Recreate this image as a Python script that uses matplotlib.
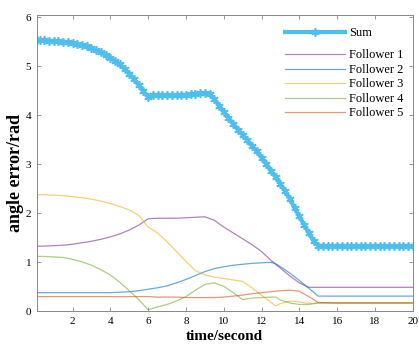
import matplotlib
matplotlib.use('Agg')
import matplotlib.pyplot as plt

plt.rcParams['font.family'] = ['Liberation Serif', 'DejaVu Serif']

# tempo dos seguidores
t_f = [0.1, 0.5, 1, 1.5, 2, 2.5, 3, 3.5, 4, 4.5, 5, 5.5, 6, 6.5, 7, 7.5, 8, 8.5, 9, 9.5,
       10, 10.5, 11, 11.5, 12, 12.5, 12.75, 13, 13.5, 14, 14.5, 15, 16, 17, 18, 19, 20]

follower1 = [1.33, 1.33, 1.34, 1.35, 1.37, 1.40, 1.43, 1.47, 1.52, 1.58, 1.66, 1.76, 1.89, 1.90, 1.90, 1.90, 1.91, 1.92, 1.93, 1.86,
             1.72, 1.60, 1.48, 1.36, 1.22, 1.04, 0.96, 0.88, 0.72, 0.58, 0.49, 0.49, 0.49, 0.49, 0.49, 0.49, 0.49]
follower2 = [0.38, 0.38, 0.38, 0.38, 0.38, 0.38, 0.38, 0.38, 0.38, 0.39, 0.40, 0.42, 0.45, 0.48, 0.52, 0.58, 0.65, 0.73, 0.81, 0.87,
             0.91, 0.94, 0.96, 0.98, 0.99, 1.00, 0.97, 0.91, 0.78, 0.63, 0.47, 0.31, 0.31, 0.31, 0.31, 0.31, 0.31]
follower3 = [2.38, 2.38, 2.37, 2.36, 2.34, 2.32, 2.29, 2.25, 2.20, 2.14, 2.07, 1.96, 1.72, 1.60, 1.42, 1.22, 1.02, 0.83, 0.74, 0.70,
             0.67, 0.64, 0.61, 0.48, 0.33, 0.18, 0.11, 0.16, 0.21, 0.19, 0.16, 0.17, 0.17, 0.17, 0.17, 0.17, 0.17]
follower4 = [1.12, 1.12, 1.11, 1.10, 1.06, 1.01, 0.94, 0.85, 0.74, 0.59, 0.42, 0.24, 0.03, 0.09, 0.14, 0.21, 0.30, 0.43, 0.55, 0.58,
             0.51, 0.38, 0.24, 0.27, 0.28, 0.29, 0.29, 0.23, 0.17, 0.14, 0.14, 0.17, 0.17, 0.17, 0.17, 0.17, 0.17]
follower5 = [0.30, 0.30, 0.30, 0.30, 0.30, 0.30, 0.30, 0.30, 0.30, 0.30, 0.30, 0.30, 0.30, 0.29, 0.29, 0.29, 0.28, 0.28, 0.28, 0.28,
             0.29, 0.31, 0.33, 0.36, 0.38, 0.40, 0.41, 0.42, 0.43, 0.41, 0.30, 0.18, 0.17, 0.17, 0.17, 0.17, 0.17]

# soma
t_sum = [0.1, 0.25, 0.5, 0.75, 1, 1.25, 1.5, 1.75, 2, 2.25, 2.5, 2.75, 3, 3.25, 3.5, 3.75, 4, 4.25, 4.5, 4.75,
         5, 5.25, 5.5, 5.75, 6, 6.25, 6.5, 6.75, 7, 7.25, 7.5, 7.75, 8, 8.25, 8.5, 8.75, 9, 9.25, 9.5, 9.75,
         10, 10.25, 10.5, 10.75, 11, 11.25, 11.5, 11.75, 12, 12.25, 12.5, 12.75, 13, 13.25, 13.5, 13.75, 14, 14.25, 14.5, 14.75,
         15, 15.25, 15.5, 15.75, 16, 16.25, 16.5, 16.75, 17, 17.25, 17.5, 17.75, 18, 18.25, 18.5, 18.75, 19, 19.25, 19.5, 19.75, 20]
sum_err = [5.53, 5.53, 5.53, 5.52, 5.52, 5.51, 5.50, 5.49, 5.48, 5.46, 5.44, 5.41, 5.37, 5.33, 5.29, 5.24, 5.18, 5.11, 5.04, 4.95,
           4.85, 4.74, 4.62, 4.49, 4.38, 4.41, 4.41, 4.41, 4.41, 4.41, 4.41, 4.42, 4.42, 4.43, 4.44, 4.45, 4.45, 4.44, 4.33, 4.20,
           4.07, 3.95, 3.83, 3.71, 3.60, 3.49, 3.38, 3.27, 3.14, 3.01, 2.87, 2.74, 2.60, 2.45, 2.29, 2.11, 1.94, 1.77, 1.60, 1.44,
           1.34, 1.33, 1.33, 1.33, 1.33, 1.33, 1.33, 1.33, 1.33, 1.33, 1.33, 1.33, 1.33, 1.33, 1.33, 1.33, 1.33, 1.33, 1.33, 1.33, 1.33]

fig = plt.figure(figsize=(4.19, 3.45), dpi=100)
ax = fig.add_axes([0.0876, 0.0977, 0.8974, 0.8588])

h_sum, = ax.plot(t_sum, sum_err, color='#4DBEEE', lw=3, marker=(6, 2, 0), ms=6, mew=1.2, label='Sum')
h1, = ax.plot(t_f, follower1, color='#7E2F8E', lw=0.9, alpha=0.6, label='Follower 1')
h2, = ax.plot(t_f, follower2, color='#0072BD', lw=0.9, alpha=0.6, label='Follower 2')
h3, = ax.plot(t_f, follower3, color='#EDB120', lw=0.9, alpha=0.6, label='Follower 3')
h4, = ax.plot(t_f, follower4, color='#77AC30', lw=0.9, alpha=0.6, label='Follower 4')
h5, = ax.plot(t_f, follower5, color='#D95319', lw=0.9, alpha=0.6, label='Follower 5')

ax.set_xlim(0.1, 20)
ax.set_ylim(0, 6.05)
ax.set_xticks(range(2, 21, 2))
ax.set_yticks(range(0, 7))
ax.tick_params(direction='in', top=True, right=True, length=3, width=0.6, color='#888888', labelsize=8, pad=4)
for s in ax.spines.values():
    s.set_color('#888888')
    s.set_linewidth(0.7)

ax.set_xlabel('time/second', fontsize=11, fontweight='bold', labelpad=3)
ax.set_ylabel('angle error/rad', fontsize=13, fontweight='bold')
ax.yaxis.set_label_coords(-0.034, 0.468)

leg1 = ax.legend(handles=[h_sum], loc='upper left', bbox_to_anchor=(0.66, 0.958), frameon=False,
                 fontsize=9, handlelength=4.8, handletextpad=0.35, borderpad=0, borderaxespad=0)
ax.add_artist(leg1)
ax.legend(handles=[h1, h2, h3, h4, h5], loc='upper left', bbox_to_anchor=(0.66, 0.884), frameon=False,
          fontsize=9, handlelength=4.8, handletextpad=0.35, labelspacing=0.2, borderpad=0, borderaxespad=0)

fig.savefig('out.png', dpi=100)
